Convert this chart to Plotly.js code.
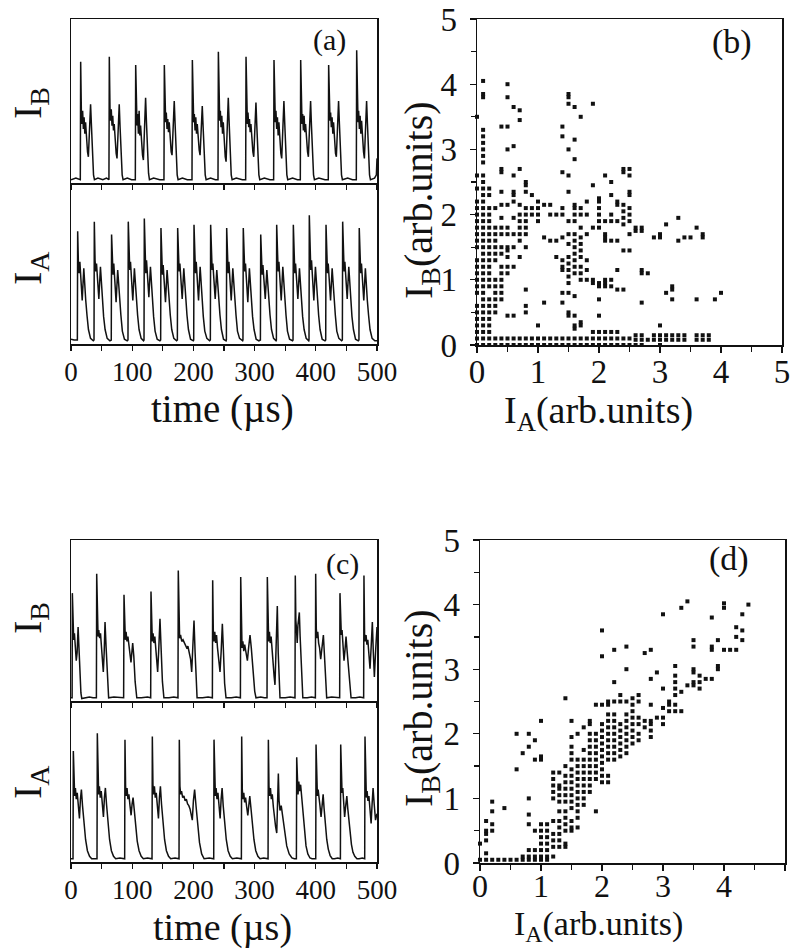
<!DOCTYPE html>
<html>
<head>
<meta charset="utf-8">
<script src="https://cdn.plot.ly/plotly-3.0.1.min.js"></script>
<style>html,body{margin:0;padding:0;background:#fff;}#chart{width:791px;height:950px;}</style>
</head>
<body>
<div id="chart"></div>
<script>
// ---------- Panel (a): time series, I_B (top) ----------
const tAB = [0,8,
15.2,15.8,17.0,18.0,19.0,20.2,21.4,22.6,23.8,25.3,27.0,28.4,30.0,32.0,33.4,35.0,36.8,38.3,44,52,58,
62.0,62.6,63.8,64.8,65.8,67.0,68.2,69.4,70.6,72.1,73.8,75.2,76.8,78.8,80.2,81.8,83.6,85.1,92,99,
105.1,105.7,106.9,107.9,108.9,110.1,111.3,112.5,113.7,115.2,116.9,118.3,119.9,121.9,123.3,124.9,126.7,128.2,135,145,
151.9,152.5,153.7,154.7,155.7,156.9,158.1,159.3,160.5,162.0,163.7,165.1,166.7,168.7,170.1,171.7,173.5,175.0,182,190,
197.7,198.3,199.5,200.5,201.5,202.7,203.9,205.1,206.3,207.8,209.5,210.9,212.5,214.5,215.9,217.5,219.3,220.8,228,236,
240.2,240.8,242.0,243.0,244.0,245.2,246.4,247.6,248.8,250.3,252.0,253.4,255.0,257.0,258.4,260.0,261.8,263.3,270,280,
285.4,286.0,287.2,288.2,289.2,290.4,291.6,292.8,294.0,295.5,297.2,298.6,300.2,302.2,303.6,305.2,307.0,308.5,316,325,
331.1,331.7,332.9,333.9,334.9,336.1,337.3,338.5,339.7,341.2,342.9,344.3,345.9,347.9,349.3,350.9,352.7,354.2,362,370,
374.7,375.3,376.5,377.5,378.5,379.7,380.9,382.1,383.3,384.8,386.5,387.9,389.5,391.5,392.9,394.5,396.3,397.8,405,415,
420.4,421.0,422.2,423.2,424.2,425.4,426.6,427.8,429.0,430.5,432.2,433.6,435.2,437.2,438.6,440.2,442.0,443.5,452,460,
466.2,466.8,468.0,469.0,470.0,471.2,472.4,473.6,474.8,476.3,478.0,479.4,481.0,483.0,484.4,486.0,487.8,489.3,496,499,500];
const yAB = [0.02,0.03,
0.02,0.74,0.42,0.36,0.44,0.33,0.40,0.30,0.37,0.26,0.19,0.16,0.31,0.48,0.35,0.17,0.05,0.02,0.03,0.02,0.03,
0.02,0.77,0.43,0.38,0.45,0.35,0.41,0.32,0.36,0.25,0.18,0.15,0.30,0.48,0.34,0.16,0.05,0.02,0.03,0.02,
0.02,0.72,0.40,0.35,0.42,0.30,0.44,0.29,0.35,0.24,0.17,0.14,0.33,0.52,0.37,0.18,0.06,0.02,0.03,0.02,
0.02,0.72,0.41,0.37,0.43,0.33,0.39,0.31,0.37,0.25,0.19,0.17,0.32,0.50,0.36,0.17,0.05,0.02,0.03,0.02,
0.02,0.75,0.44,0.37,0.42,0.32,0.40,0.30,0.36,0.27,0.20,0.17,0.30,0.47,0.34,0.16,0.05,0.02,0.03,0.02,
0.02,0.80,0.45,0.38,0.44,0.34,0.41,0.30,0.37,0.24,0.16,0.13,0.33,0.52,0.37,0.18,0.05,0.02,0.03,0.02,
0.02,0.77,0.42,0.36,0.43,0.34,0.39,0.31,0.36,0.26,0.19,0.16,0.31,0.49,0.35,0.17,0.05,0.02,0.03,0.02,
0.02,0.75,0.41,0.37,0.44,0.33,0.40,0.29,0.37,0.25,0.18,0.15,0.32,0.50,0.36,0.17,0.05,0.02,0.03,0.02,
0.02,0.75,0.43,0.36,0.42,0.32,0.41,0.31,0.36,0.26,0.19,0.16,0.31,0.50,0.35,0.17,0.05,0.02,0.03,0.02,
0.02,0.72,0.42,0.38,0.43,0.34,0.40,0.30,0.37,0.25,0.18,0.16,0.32,0.50,0.36,0.17,0.05,0.02,0.03,0.02,
0.02,0.81,0.44,0.37,0.44,0.33,0.41,0.30,0.38,0.26,0.19,0.15,0.32,0.50,0.36,0.17,0.05,0.02,0.03,0.05,0.15];

// ---------- Panel (a): time series, I_A (bottom) ----------
const tAA = [0,5,
10.4,10.9,12.1,13.3,14.5,15.9,18.3,20.9,22.5,24.1,26.1,28.5,31.9,36.4,
37.6,38.1,39.3,40.5,41.7,43.1,45.5,48.1,49.7,51.3,53.3,55.7,59.1,63.6,
65.8,66.3,67.5,68.7,69.9,71.3,73.7,76.3,77.9,79.5,81.5,83.9,87.3,91.8,
93.1,93.6,94.8,96.0,97.2,98.6,101.0,103.6,105.2,106.8,108.8,111.2,114.6,118.5,
119.3,119.8,121.0,122.2,123.4,124.8,127.2,129.8,131.4,133.0,135.0,137.4,140.8,145.3,
146.5,147.0,148.2,149.4,150.6,152.0,154.4,157.0,158.6,160.2,162.2,164.6,168.0,172.5,
173.8,174.3,175.5,176.7,177.9,179.3,181.7,184.3,185.9,187.5,189.5,191.9,195.3,199.8,
200.5,201.0,202.2,203.4,204.6,206.0,208.4,211.0,212.6,214.2,216.2,218.6,222.0,226.5,
227.7,228.2,229.4,230.6,231.8,233.2,235.6,238.2,239.8,241.4,243.4,245.8,249.2,253.4,
253.9,254.4,255.6,256.8,258.0,259.4,261.8,264.4,266.0,267.6,269.6,272.0,275.4,280.5,
281.0,281.5,282.7,283.9,285.1,286.5,288.9,291.5,293.1,294.7,296.7,299.1,302.5,307.0,
309.5,310.0,311.2,312.4,313.6,315.0,317.4,320.0,321.6,323.2,325.2,327.6,331.0,335.0,
335.6,336.1,337.3,338.5,339.7,341.1,343.5,346.1,347.7,349.3,351.3,353.7,357.1,362.0,
362.8,363.3,364.5,365.7,366.9,368.3,370.7,373.3,374.9,376.5,378.5,380.9,384.3,388.5,
388.9,389.4,390.6,391.8,393.0,394.4,396.8,399.4,401.0,402.6,404.6,407.0,410.4,415.0,
416.2,416.7,417.9,419.1,420.3,421.7,424.1,426.7,428.3,429.9,431.9,434.3,437.7,442.2,
443.4,443.9,445.1,446.3,447.5,448.9,451.3,453.9,455.5,457.1,459.1,461.5,464.9,469.4,
470.5,471.0,472.2,473.4,474.6,476.0,478.4,481.0,482.6,484.2,486.2,488.6,492.0,496.5,500];
const yAA = [0.03,0.025,
0.025,0.70,0.50,0.44,0.51,0.40,0.27,0.47,0.35,0.27,0.18,0.09,0.035,0.02,
0.025,0.76,0.52,0.45,0.50,0.42,0.28,0.48,0.36,0.28,0.17,0.09,0.035,0.02,
0.025,0.68,0.49,0.43,0.50,0.40,0.26,0.46,0.35,0.27,0.18,0.08,0.03,0.02,
0.025,0.76,0.53,0.46,0.51,0.41,0.27,0.47,0.37,0.28,0.18,0.09,0.035,0.02,
0.025,0.78,0.51,0.44,0.52,0.42,0.29,0.48,0.36,0.27,0.17,0.08,0.03,0.02,
0.025,0.72,0.50,0.43,0.49,0.40,0.26,0.46,0.35,0.28,0.18,0.09,0.035,0.02,
0.025,0.72,0.52,0.45,0.50,0.41,0.28,0.47,0.36,0.27,0.18,0.09,0.03,0.02,
0.025,0.74,0.51,0.44,0.51,0.40,0.27,0.48,0.36,0.28,0.17,0.08,0.035,0.02,
0.025,0.74,0.50,0.46,0.50,0.42,0.28,0.46,0.35,0.27,0.18,0.09,0.03,0.02,
0.025,0.72,0.49,0.44,0.51,0.40,0.27,0.47,0.36,0.28,0.18,0.08,0.035,0.02,
0.025,0.72,0.51,0.45,0.50,0.41,0.26,0.47,0.35,0.27,0.17,0.09,0.03,0.02,
0.025,0.68,0.50,0.43,0.49,0.40,0.28,0.46,0.36,0.28,0.18,0.09,0.035,0.02,
0.025,0.74,0.52,0.45,0.51,0.41,0.27,0.48,0.36,0.27,0.18,0.08,0.03,0.02,
0.025,0.74,0.51,0.44,0.50,0.42,0.28,0.47,0.35,0.28,0.17,0.09,0.035,0.02,
0.025,0.80,0.53,0.46,0.52,0.41,0.27,0.48,0.37,0.28,0.18,0.09,0.03,0.02,
0.025,0.74,0.50,0.44,0.50,0.40,0.27,0.47,0.36,0.27,0.18,0.08,0.035,0.02,
0.025,0.76,0.52,0.45,0.51,0.42,0.28,0.48,0.36,0.28,0.17,0.09,0.03,0.02,
0.025,0.72,0.50,0.44,0.50,0.41,0.27,0.47,0.35,0.27,0.18,0.09,0.035,0.02,0.02];

// ---------- Panel (c): time series, I_B (top) ----------
const tCB = [0,1.8,2.2,3.2,4.4,5.6,7.0,8.6,10.0,11.6,12.8,14.5,16.2,17.6,22,30,36,
41.5,42.0,43.0,44.2,45.4,46.8,48.2,49.6,51.2,52.8,54.2,55.6,57.4,59.4,61.5,70,80,
86.0,86.6,87.6,88.8,90.0,91.4,93.0,94.6,96.4,98.0,99.4,100.8,102.6,104.8,107.5,115,125,
130.2,130.7,131.7,132.9,134.1,135.5,137.0,138.6,140.2,141.6,143.5,145.4,147.2,149.4,151.8,160,168,
174.8,175.3,176.3,177.5,179.0,181.0,183.0,185.0,187.0,189.0,191.0,193.2,195.4,197.2,199.2,201.0,202.8,204.4,206.0,215,224,
231.0,231.5,232.5,233.7,234.9,236.3,237.8,239.4,241.6,243.5,245.4,247.3,249.0,251.0,253.3,262,270,
276.8,277.3,278.3,279.5,280.8,282.3,283.8,285.4,287.0,288.2,290.2,292.5,294.6,297.4,300.2,302.3,310,316,
320.3,320.8,321.8,323.0,324.2,325.6,327.0,328.6,330.4,332.0,333.3,335.2,337.1,338.6,340.0,341.5,350,358,
366.0,366.5,367.4,368.4,369.6,370.8,372.0,373.1,374.4,376.0,377.4,378.8,386,393,
399.3,399.8,400.8,402.0,403.2,404.6,406.2,408.0,410.2,412.4,414.2,416.0,417.8,426,433,
439.0,439.5,440.5,441.7,442.9,444.3,446.1,447.8,449.4,451.4,453.6,455.8,457.6,465,472,
478.2,478.7,479.7,480.9,482.1,483.5,485.0,486.8,488.6,490.5,492.4,494.0,495.7,497.6,500];
const yCB = [0.02,0.02,0.67,0.44,0.38,0.42,0.35,0.25,0.30,0.46,0.35,0.18,0.05,0.015,0.02,0.025,0.02,
0.02,0.79,0.45,0.40,0.44,0.39,0.42,0.34,0.27,0.18,0.30,0.49,0.33,0.12,0.02,0.025,0.02,
0.02,0.66,0.44,0.38,0.43,0.37,0.40,0.35,0.31,0.24,0.30,0.36,0.28,0.12,0.02,0.02,0.025,
0.02,0.68,0.43,0.37,0.42,0.36,0.40,0.33,0.26,0.18,0.33,0.51,0.33,0.12,0.02,0.02,0.025,
0.02,0.81,0.44,0.39,0.41,0.37,0.38,0.36,0.35,0.33,0.34,0.30,0.26,0.18,0.32,0.50,0.30,0.10,0.02,0.02,0.025,
0.02,0.75,0.44,0.37,0.43,0.36,0.41,0.33,0.25,0.18,0.31,0.48,0.32,0.11,0.02,0.02,0.025,
0.02,0.77,0.40,0.33,0.37,0.31,0.35,0.30,0.28,0.25,0.33,0.41,0.33,0.18,0.06,0.02,0.025,0.02,
0.02,0.77,0.44,0.37,0.43,0.36,0.40,0.30,0.22,0.15,0.10,0.30,0.59,0.30,0.08,0.02,0.02,0.025,
0.02,0.78,0.50,0.45,0.36,0.47,0.52,0.55,0.40,0.22,0.08,0.02,0.02,0.025,
0.02,0.79,0.45,0.39,0.43,0.36,0.33,0.26,0.33,0.41,0.28,0.10,0.02,0.025,0.02,
0.02,0.67,0.46,0.41,0.44,0.35,0.25,0.32,0.40,0.30,0.18,0.07,0.02,0.02,0.025,
0.02,0.78,0.42,0.37,0.41,0.35,0.38,0.30,0.20,0.34,0.49,0.30,0.15,0.30,0.46];

// ---------- Panel (c): time series, I_A (bottom) ----------
const tCA = [0,3.3,3.8,4.8,6.0,7.2,8.6,10.2,12.0,13.8,15.4,17.0,18.8,21.3,23.8,26.8,30.3,33.8,38,
42.5,43.0,44.0,45.2,46.4,47.8,49.4,51.2,53.0,54.6,56.2,58.0,60.5,63.0,66.0,69.5,73.0,80,87.7,
88.2,89.2,90.4,91.6,93.0,94.6,96.4,98.2,99.8,101.4,103.2,105.7,108.2,111.2,114.7,118.2,125,132.4,
132.9,133.9,135.1,136.3,137.7,139.3,141.1,142.9,144.5,146.1,147.9,150.4,152.9,155.9,159.4,162.9,170,176.5,
177.0,178.0,179.2,180.6,182.5,184.5,186.5,188.5,190.5,192.5,194.5,196.5,198.2,200.0,202.0,204.5,207.0,210.0,213.5,217.5,226,233.2,
233.7,234.7,235.9,237.1,238.5,240.1,241.9,243.7,245.3,246.9,248.7,251.2,253.7,256.7,260.2,263.7,271,278.4,
278.9,279.9,281.1,282.3,283.7,285.3,287.1,288.9,290.5,292.1,293.9,296.4,298.9,301.9,305.4,308.9,315,322.0,
322.5,323.5,324.7,325.9,327.3,328.9,330.7,332.5,334.3,336.2,337.6,338.8,340.0,341.5,343.5,346.0,349.0,352.5,356.5,361.0,365.0,368.3,
368.8,369.8,371.0,372.2,373.6,375.2,377.0,379.0,381.5,384.0,387.0,390.5,394.0,399.9,
400.4,401.4,402.6,403.8,405.2,406.8,408.6,410.4,412.0,413.6,415.4,417.9,420.4,423.4,426.9,430.4,436,440.2,
440.7,441.7,442.9,444.1,445.5,447.1,448.9,450.7,452.3,453.9,455.7,458.2,460.7,463.7,467.2,470.7,476,479.9,
480.4,481.4,482.6,483.8,485.2,486.8,488.6,490.4,492.0,493.6,495.4,497.6,500];
const yCA = [0.02,0.02,0.69,0.47,0.41,0.46,0.39,0.43,0.35,0.27,0.39,0.45,0.35,0.24,0.14,0.07,0.035,0.02,0.02,
0.02,0.80,0.48,0.42,0.47,0.40,0.44,0.36,0.28,0.40,0.46,0.36,0.25,0.14,0.07,0.035,0.02,0.025,0.02,
0.76,0.47,0.41,0.46,0.39,0.42,0.35,0.29,0.36,0.40,0.33,0.23,0.13,0.07,0.035,0.02,0.025,0.02,
0.78,0.48,0.42,0.47,0.40,0.43,0.35,0.27,0.40,0.47,0.36,0.25,0.14,0.07,0.035,0.02,0.025,0.02,
0.76,0.47,0.42,0.44,0.40,0.41,0.38,0.39,0.36,0.35,0.33,0.29,0.26,0.38,0.45,0.34,0.22,0.12,0.05,0.02,0.025,0.02,
0.76,0.48,0.41,0.46,0.39,0.43,0.35,0.27,0.39,0.46,0.35,0.24,0.14,0.07,0.035,0.02,0.025,0.02,
0.78,0.45,0.39,0.43,0.37,0.40,0.34,0.29,0.35,0.41,0.34,0.24,0.14,0.07,0.035,0.02,0.025,0.02,
0.76,0.47,0.41,0.46,0.39,0.42,0.34,0.27,0.22,0.18,0.35,0.55,0.38,0.32,0.35,0.28,0.18,0.10,0.05,0.025,0.02,0.02,
0.65,0.48,0.42,0.50,0.44,0.48,0.40,0.28,0.18,0.10,0.05,0.025,0.02,0.02,
0.73,0.47,0.41,0.45,0.38,0.35,0.28,0.36,0.42,0.33,0.24,0.14,0.08,0.04,0.02,0.02,0.025,0.02,
0.73,0.49,0.43,0.46,0.37,0.28,0.35,0.41,0.33,0.26,0.18,0.11,0.06,0.035,0.02,0.02,0.025,0.02,
0.78,0.46,0.40,0.44,0.38,0.41,0.33,0.24,0.36,0.46,0.36,0.26,0.30];

// ---------- Panel (b): scatter I_B vs I_A, grouped by I_A column ----------
const bColX = [0,0.1,0.2,0.3,0.4,0.5,0.6,0.7,0.8,0.9,1.0,1.1,1.2,1.3,1.4,1.5,1.6,1.7,1.8,1.9,2.0,2.1,2.2,2.3,2.4,2.5,2.6,2.7,2.8,2.9,3.0,3.1,3.2,3.3,3.4,3.5,3.6,3.7,3.8,3.9,4.0];
const bColY = [
[0,0.1,0.2,0.3,0.4,0.5,0.6,0.8,0.9,1.0,1.1,1.2,1.3,1.5,1.6,1.7,1.8,1.9,2.0,2.1,2.2,2.4,2.6,3.5],
[0,0.1,0.2,0.3,0.4,0.5,0.6,0.7,0.8,0.9,1.0,1.1,1.2,1.3,1.4,1.5,1.6,1.7,1.8,1.9,2.0,2.1,2.2,2.3,2.4,2.5,2.6,2.8,2.9,3.0,3.1,3.2,3.3,3.8,3.85,4.05],
[0,0.1,0.2,0.3,0.4,0.5,0.6,0.7,0.9,1.0,1.1,1.2,1.3,1.4,1.5,1.6,1.7,1.8,1.9,2.0,2.1,2.3,2.4],
[0,0.1,0.5,0.6,0.7,0.8,0.9,1.0,1.3,1.4,1.5,1.6,1.7,1.8,2.1],
[0,0.1,0.7,0.8,0.9,1.0,1.1,1.2,1.4,1.5,1.7,1.8,1.95,2.15,2.35,2.65,2.7,3.35],
[0,0.1,0.45,1.1,1.2,1.35,1.45,1.5,1.7,1.8,2.15,3.0,3.35,3.8,4.0],
[0,0.1,0.45,1.2,1.5,1.7,1.95,2.2,2.3,2.35,2.6,3.05,3.65],
[0,0.1,1.35,1.6,1.7,1.8,1.9,2.0,2.15,2.7,3.45,3.6],
[0,0.1,0.5,0.6,0.85,1.5,1.7,1.8,1.9,2.0,2.1,2.35,2.45,2.5],
[0,0.1,2.0,2.1,2.3],
[0,0.1,0.3,1.9,2.0,2.1,2.2],
[0,0.1,0.65,1.65,2.15],
[0,0.1,1.6,2.0,2.15],
[0,0.1,1.35,1.6,2.0],
[0,0.1,0.65,0.8,1.15,1.2,1.3,1.65,2.0,2.1,2.65,3.2,3.35],
[0,0.1,0.45,0.5,0.8,0.95,1.05,1.15,1.25,1.35,1.55,1.7,1.9,2.35,2.6,3.0,3.7,3.8,3.85],
[0,0.1,0.25,0.3,0.45,0.75,1.1,1.2,1.3,1.4,1.5,1.6,1.7,1.9,2.0,2.1,2.15,2.85,3.15,3.65],
[0,0.1,0.3,0.35,1.0,1.1,1.2,1.35,1.45,1.55,1.65,1.8,2.0,2.1,3.5],
[0,0.1,1.0,1.15,1.3,1.7,2.0,2.2],
[0,0.1,0.2,0.95,1.0,1.8,2.45,3.7],
[0,0.1,0.2,0.45,0.7,0.9,0.95,1.8,1.9,2.0,2.1,2.2,2.25],
[0,0.1,0.2,0.9,0.95,1.0,1.6,1.65,1.7,1.9,2.6],
[0,0.1,0.2,0.9,1.0,1.6,1.9,2.0,2.3,2.5],
[0,0.1,0.2,0.85,1.15,1.6,1.9,2.15,2.2],
[0,0.1,0.85,1.45,1.85,1.95,2.05,2.15,2.65,2.7],
[0,0.1,1.45,1.7,1.9,2.0,2.1,2.3,2.35,2.6,2.7],
[0,0.08,0.15,1.75,1.8],
[0,0.08,0.15,0.65,1.1,1.15,1.75,1.8],
[0.08,1.1],
[0.08,0.15,1.65],
[0,0.08,0.15,0.3,1.65,1.7],
[0.08,0.15,0.8,1.85],
[0.08,0.15,0.7,0.85,0.9],
[0.08,0.15,1.6,1.95],
[0.08,0.15,1.65],
[1.65],
[0.08,0.15,0.7,1.8],
[0.08,0.15,1.65,1.7],
[0.08,0.15],
[0.7],
[0.8]];

// ---------- Panel (d): scatter I_B vs I_A, grouped by I_A column ----------
const dColX = [0,0.1,0.2,0.3,0.4,0.5,0.6,0.7,0.8,0.9,1.0,1.1,1.2,1.3,1.4,1.5,1.6,1.7,1.8,1.9,2.0,2.1,2.2,2.3,2.4,2.5,2.6,2.7,2.8,2.9,3.0,3.1,3.2,3.3,3.4,3.5,3.6,3.7,3.8,3.9,4.0,4.1,4.2,4.3,4.4];
const dColY = [
[0.05,0.3],
[0.05,0.15,0.35,0.45,0.5,0.65],
[0.05,0.5,0.6,0.8,0.95],
[0.05],
[0.05,0.85],
[0.05],
[0.05,1.45,2.0],
[0.05,0.1,1.7],
[0.05,0.1,0.2,0.6,0.75,1.0,1.8,2.0],
[0.05,0.1,0.2,0.5,1.6,1.9],
[0.05,0.1,0.2,0.3,0.4,0.5,0.6,1.6,1.65,2.2],
[0.05,0.1,0.2,0.3,0.4,0.5,0.6],
[0.1,0.25,0.35,0.45,0.65,1.0,1.1,1.2,1.3,1.4],
[0.25,0.35,0.45,0.55,0.65,0.8,0.95,1.05,1.15,1.2,1.4],
[0.25,0.3,0.5,0.6,0.7,0.8,0.95,1.05,1.15,1.25,1.35,1.5,2.55],
[0.5,0.55,0.65,0.85,0.95,1.05,1.15,1.25,1.35,1.45,1.6,1.7,1.8,1.95,2.2],
[0.55,0.7,0.8,0.9,1.0,1.1,1.2,1.3,1.4,1.5,1.6,2.0],
[0.9,1.0,1.1,1.2,1.3,1.4,1.5,1.6,1.75,2.1],
[1.1,1.2,1.3,1.4,1.5,1.6,1.7,1.8,1.9,2.0,2.15,2.2],
[0.8,1.3,1.4,1.5,1.6,1.7,1.8,1.9,2.0,2.45],
[1.25,1.35,1.45,1.55,1.65,1.75,1.85,1.95,2.05,2.15,2.45,3.2,3.6],
[1.25,1.35,1.6,1.7,1.8,1.9,2.0,2.1,2.2,2.3,2.45,2.5],
[1.6,1.7,1.8,1.9,2.0,2.1,2.2,2.3,2.5,2.8,3.3],
[1.65,1.75,1.85,1.95,2.05,2.15,2.5,2.6],
[1.7,1.8,1.9,2.0,2.1,2.2,2.3,2.5,3.0,3.35],
[1.85,1.95,2.05,2.15,2.25,2.35,2.45,2.55],
[1.9,2.0,2.15,2.25,2.5,2.6],
[2.1,2.2,3.25],
[1.95,2.05,2.15,2.2,2.45,2.85,3.3],
[2.25,2.95],
[2.15,2.25,2.4,2.7,3.85],
[2.35,2.45,2.5],
[2.35,2.45,2.6,2.7,2.8,2.9,3.05],
[2.35,2.65,3.95],
[2.75,4.05],
[2.75,2.8,2.95,3.0,3.35,3.45],
[2.7,2.8,2.9],
[2.85],
[2.85,3.3,3.35,3.8],
[3.0,3.05,3.45],
[3.3,3.95,4.02],
[3.3],
[3.3,3.5,3.65],
[3.45,3.6,3.85],
[4.0]];

// ---------- Text ----------
const timeTicks = [0,100,200,300,400,500];
const timeTickText = ['0','100','200','300','400','500'];
const scatTicks = [0,1,2,3,4,5];
const labelIB = 'I<sub>B</sub>';
const labelIA = 'I<sub>A</sub>';
const titleTime = 'time (\u00b5s)';
const titleIBarb = 'I<sub>B</sub>(arb.units)';
const titleIAarb = 'I<sub>A</sub>(arb.units)';
const panelTags = ['(a)','(b)','(c)','(d)'];

// ---------- build ----------
function flatten(colX, colY){
  const xs=[], ys=[];
  colX.forEach((x,i)=>colY[i].forEach(y=>{xs.push(x); ys.push(y);}));
  return {xs, ys};
}
const bPts = flatten(bColX, bColY);
const dPts = flatten(dColX, dColY);

const W=791, H=950;
const px = v => v/W;
const py = v => 1 - v/H;
const FONT = 'Liberation Serif, Times New Roman, serif';

const lineStyle = {color:'#111', width:1.5};
const mk = {symbol:'square', size:4, color:'#111'};

const traces = [
  {x:tAB, y:yAB, xaxis:'x', yaxis:'y', mode:'lines', line:lineStyle, hoverinfo:'skip'},
  {x:tAA, y:yAA, xaxis:'x2', yaxis:'y2', mode:'lines', line:lineStyle, hoverinfo:'skip'},
  {x:tCB, y:yCB, xaxis:'x3', yaxis:'y3', mode:'lines', line:lineStyle, hoverinfo:'skip'},
  {x:tCA, y:yCA, xaxis:'x4', yaxis:'y4', mode:'lines', line:lineStyle, hoverinfo:'skip'},
  {x:bPts.xs, y:bPts.ys, xaxis:'x5', yaxis:'y5', mode:'markers', marker:mk, cliponaxis:false, hoverinfo:'skip'},
  {x:dPts.xs, y:dPts.ys, xaxis:'x6', yaxis:'y6', mode:'markers', marker:mk, cliponaxis:false, hoverinfo:'skip'}
];

function timeX(anchor, dom, labels, mirror){
  return {domain:dom, anchor:anchor, range:[0,500], showgrid:false, zeroline:false,
    showline:true, mirror:mirror, linecolor:'#111', linewidth:1.5,
    ticks:'outside', ticklen:5, tickwidth:1.2, tickcolor:'#111',
    tickvals:timeTicks, ticktext:timeTickText, showticklabels:labels,
    ticklabelstandoff:-2,
    tickfont:{family:FONT, size:27, color:'#111'},
    minor:{tickvals:[50,150,250,350,450], ticks:'outside', ticklen:5, tickwidth:1.2, tickcolor:'#111'}};
}
function timeY(anchor, dom){
  return {domain:dom, anchor:anchor, range:[0,1], showgrid:false, zeroline:false,
    showline:true, mirror:true, linecolor:'#111', linewidth:1.5, ticks:'', showticklabels:false};
}
function scatAx(anchor, dom, standoff){
  return {domain:dom, anchor:anchor, range:[0,5], showgrid:false, zeroline:false,
    showline:true, mirror:true, linecolor:'#111', linewidth:1.5,
    ticks:'outside', ticklen:6, tickwidth:1.2, tickcolor:'#111',
    tickvals:scatTicks, ticklabelstandoff:standoff,
    tickfont:{family:FONT, size:33, color:'#111'},
    minor:{tickvals:[0.5,1.5,2.5,3.5,4.5], ticks:'outside', ticklen:5, tickwidth:1.2, tickcolor:'#111'}};
}

const aX = [px(71), px(377)];
const cX = [px(71), px(377)];
const layout = {
  width:W, height:H, autosize:false,
  margin:{l:0,r:0,t:0,b:0,pad:0},
  paper_bgcolor:'#fff', plot_bgcolor:'rgba(0,0,0,0)',
  showlegend:false,
  xaxis: timeX('y', aX, false, true),
  yaxis: timeY('x', [py(183), py(19)]),
  xaxis2: timeX('y2', aX, true, false),
  yaxis2: timeY('x2', [py(344), py(183)]),
  xaxis3: timeX('y3', cX, false, true),
  yaxis3: timeY('x3', [py(701), py(540)]),
  xaxis4: timeX('y4', cX, true, false),
  yaxis4: timeY('x4', [py(862), py(701)]),
  xaxis5: scatAx('y5', [px(477), px(782)], -9),
  yaxis5: scatAx('x5', [py(345), py(19)], 6),
  xaxis6: Object.assign(scatAx('y6', [px(480), px(785)], -12), {tickfont:{family:FONT, size:32, color:'#111'}}),
  yaxis6: scatAx('x6', [py(863), py(540)], 6),
  annotations: [
    {text:labelIB, x:px(30), y:py(103), textangle:-90, font:{family:FONT,size:40,color:'#111'}},
    {text:labelIA, x:px(30), y:py(268), textangle:-90, font:{family:FONT,size:40,color:'#111'}},
    {text:labelIB, x:px(30), y:py(618), textangle:-90, font:{family:FONT,size:40,color:'#111'}},
    {text:labelIA, x:px(30), y:py(782), textangle:-90, font:{family:FONT,size:40,color:'#111'}},
    {text:titleTime, x:px(222), y:py(409), font:{family:FONT,size:39,color:'#111'}},
    {text:titleTime, x:px(222), y:py(927), font:{family:FONT,size:38,color:'#111'}},
    {text:titleIAarb, x:px(598), y:py(413), font:{family:FONT,size:38,color:'#111'}},
    {text:titleIAarb, x:px(598), y:py(926), font:{family:FONT,size:34,color:'#111'}},
    {text:titleIBarb, x:px(421), y:py(200), textangle:-90, font:{family:FONT,size:40,color:'#111'}},
    {text:titleIBarb, x:px(421), y:py(708), textangle:-90, font:{family:FONT,size:40,color:'#111'}},
    {text:panelTags[0], x:px(329), y:py(40), font:{family:FONT,size:30,color:'#111'}},
    {text:panelTags[1], x:px(732), y:py(42), font:{family:FONT,size:34,color:'#111'}},
    {text:panelTags[2], x:px(342), y:py(564), font:{family:FONT,size:30,color:'#111'}},
    {text:panelTags[3], x:px(729), y:py(559), font:{family:FONT,size:34,color:'#111'}}
  ].map(a=>Object.assign({xref:'paper', yref:'paper', showarrow:false, xanchor:'center', yanchor:'middle'}, a))
};

Plotly.newPlot('chart', traces, layout, {staticPlot:true, displayModeBar:false});
</script>
</body>
</html>
